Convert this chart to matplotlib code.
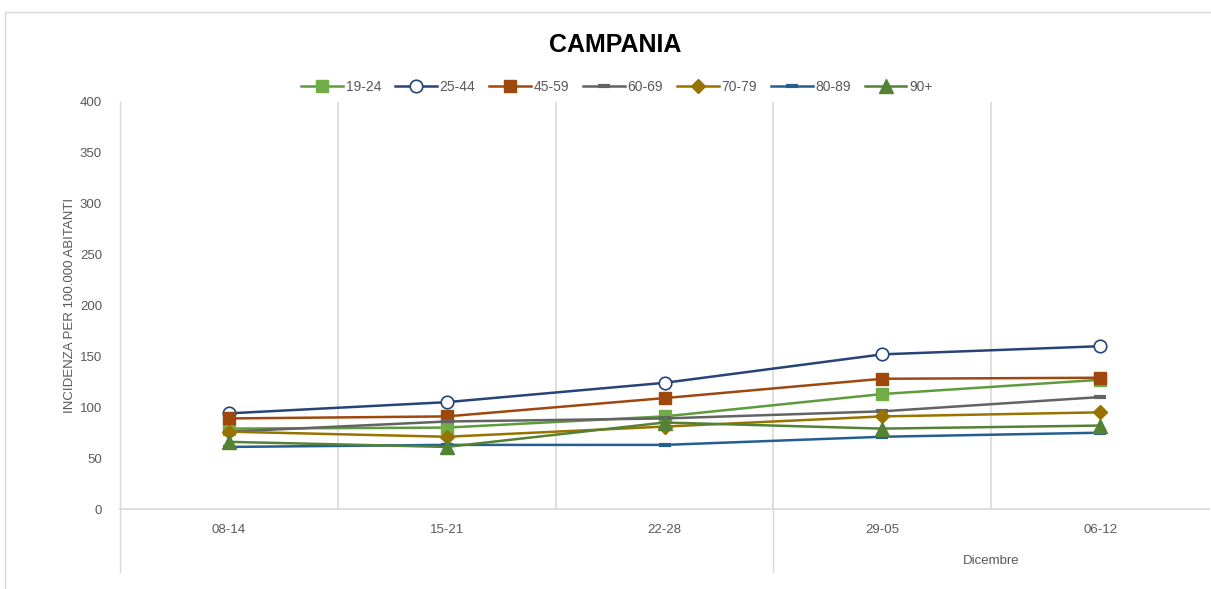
import matplotlib
matplotlib.use("Agg")
import matplotlib.pyplot as plt
import matplotlib.transforms as mtransforms
from matplotlib.lines import Line2D
import numpy as np

plt.rcParams['font.family'] = ['Liberation Sans Narrow', 'Liberation Sans', 'DejaVu Sans']

categories = ["08-14", "15-21", "22-28", "29-05", "06-12"]
group_labels = ["", "Dicembre"]
group_spans = [(0, 2), (3, 4)]

s19_24 = [79, 80, 91, 113, 127]
s25_44 = [94, 105, 124, 152, 160]
s45_59 = [89, 91, 109, 128, 129]
s60_69 = [76, 86, 89, 96, 110]
s70_79 = [76, 71, 81, 91, 95]
s80_89 = [61, 63, 63, 71, 75]
s90p = [66, 61, 85, 79, 82]

series = [
    ("19-24", s19_24, dict(color="#5E9B3C", marker="s", ms=9, mfc="#70AD47", mec="#70AD47")),
    ("25-44", s25_44, dict(color="#264478", marker="o", ms=9, mfc="white", mec="#264478", mew=1.2)),
    ("45-59", s45_59, dict(color="#9E480E", marker="s", ms=9, mfc="#9E480E", mec="#9E480E")),
    ("60-69", s60_69, dict(color="#636363", marker="_", ms=9, mew=3, mec="#636363")),
    ("70-79", s70_79, dict(color="#997300", marker="D", ms=7, mfc="#997300", mec="#997300")),
    ("80-89", s80_89, dict(color="#255E91", marker="_", ms=9, mew=3, mec="#255E91")),
    ("90+", s90p, dict(color="#548235", marker="^", ms=10, mfc="#548235", mec="#548235")),
]

W, H = 1211, 589
fig = plt.figure(figsize=(W / 100, H / 100), dpi=100)
L, R, T, B = 120, 1209, 102, 509
ax = fig.add_axes([L / W, 1 - B / H, (R - L) / W, (B - T) / H])

x = np.arange(len(categories))
handles = []
for name, vals, st in series:
    h, = ax.plot(x, vals, lw=1.8, label=name, zorder=3, clip_on=False, **st)
    handles.append(h)

ax.set_xlim(-0.5, len(categories) - 0.5)
ax.set_ylim(0, 400)
ax.set_yticks(np.arange(0, 401, 50))
ax.set_xticks([])
ax.set_xticks(np.arange(0.5, len(categories) - 0.5, 1), minor=True)
ax.tick_params(axis='x', which='both', length=0, labelbottom=False)
ax.tick_params(axis='y', length=0, labelsize=9.5, labelcolor="#595959", pad=13)
ax.grid(axis='x', which='minor', color="#D9D9D9", lw=1.2)
for sp in ["top", "right"]:
    ax.spines[sp].set_visible(False)
ax.spines["left"].set_color("#D9D9D9")
ax.spines["bottom"].set_color("#D9D9D9")
ax.spines["left"].set_linewidth(1.0)
ax.spines["bottom"].set_linewidth(1.2)

trans = mtransforms.blended_transform_factory(ax.transData, ax.transAxes)
axh = (B - T)
def ay(py):
    return (B - py) / axh

for i, c in enumerate(categories):
    ax.text(i, ay(530), c, transform=trans, ha="center", va="center",
            fontsize=9.5, color="#595959")
for (a, b), g in zip(group_spans, group_labels):
    ax.text((a + b) / 2, ay(561), g, transform=trans, ha="center", va="center",
            fontsize=9.5, color="#595959")
for xs in [-0.5, 2.5]:
    ax.add_line(Line2D([xs, xs], [0, ay(572)], transform=trans, color="#D9D9D9",
                       lw=1.0, clip_on=False))

ax.set_ylabel("INCIDENZA PER 100.000 ABITANTI", fontsize=9.5, color="#595959", labelpad=3)

fig.text(615 / W, 1 - 45 / H, "CAMPANIA", ha="center", va="center",
         fontsize=18, fontweight="bold", color="black", family=["Liberation Sans", "DejaVu Sans"])

fig.legend(handles=handles, loc="center", bbox_to_anchor=(617 / W, 1 - 87 / H), ncol=7,
           frameon=False, fontsize=10, handlelength=3, handletextpad=0.2,
           columnspacing=1.0, labelcolor="#595959")

# chart border
fig.add_artist(Line2D([5 / W, 5 / W], [0, 1 - 12 / H], color="#D9D9D9", lw=1))
fig.add_artist(Line2D([5 / W, 1], [1 - 12 / H, 1 - 12 / H], color="#D9D9D9", lw=1))

fig.savefig("out.png", dpi=100)
